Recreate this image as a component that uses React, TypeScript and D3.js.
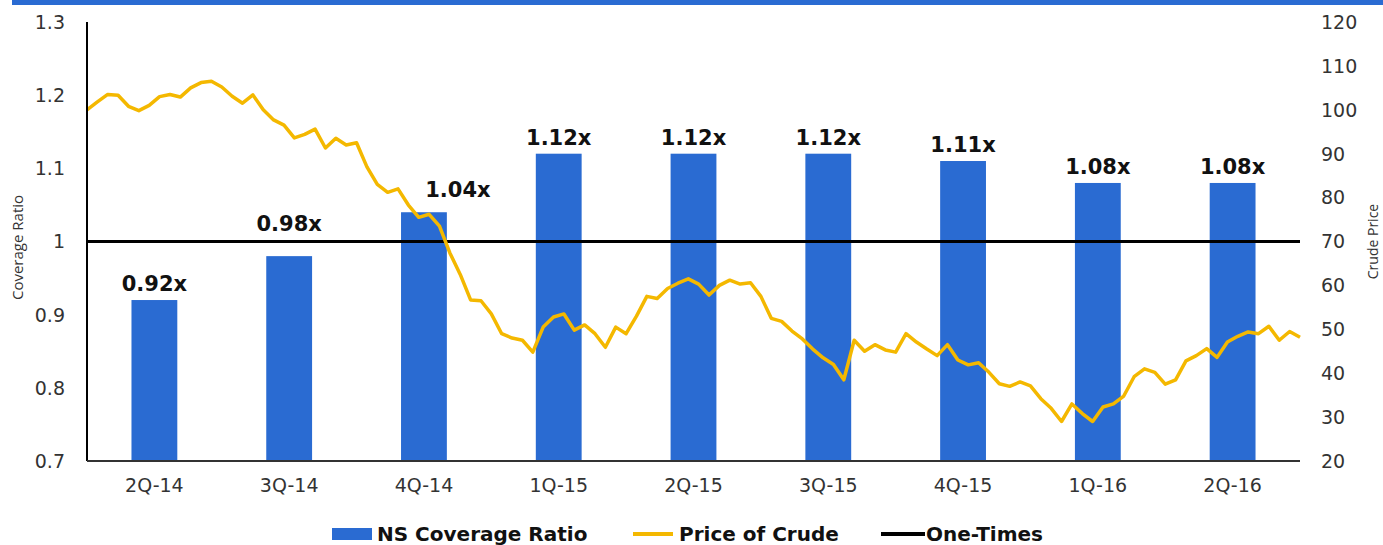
import React from 'react'
import * as d3 from 'd3'

// quarterly coverage ratio
const quarters = ['2Q-14', '3Q-14', '4Q-14', '1Q-15', '2Q-15', '3Q-15', '4Q-15', '1Q-16', '2Q-16']
const coverage = [0.92, 0.98, 1.04, 1.12, 1.12, 1.12, 1.11, 1.08, 1.08]
const oneTimes = 1.0

// weekly crude price
const crude = [
  100.0, 101.8, 103.5, 103.3, 100.8, 99.8, 101.0, 103.0, 103.5, 102.9,
  105.0, 106.2, 106.5, 105.2, 103.1, 101.5, 103.4, 100.0, 97.7, 96.5,
  93.6, 94.4, 95.6, 91.3, 93.5, 92.0, 92.5, 87.0, 83.0, 81.2,
  82.0, 78.3, 75.5, 76.2, 73.5, 67.4, 62.5, 56.7, 56.5, 53.5,
  49.0, 48.0, 47.5, 44.8, 50.5, 52.8, 53.5, 49.8, 51.0, 49.0,
  45.9, 50.5, 49.0, 53.0, 57.5, 57.0, 59.3, 60.5, 61.5, 60.3,
  57.8, 60.0, 61.2, 60.3, 60.6, 57.5, 52.5, 51.8, 49.6, 47.8,
  45.5, 43.5, 42.0, 38.5, 47.5, 45.0, 46.5, 45.3, 44.8, 49.0,
  47.1, 45.5, 44.0, 46.5, 43.0, 41.9, 42.4, 40.2, 37.6, 37.0,
  38.0, 37.1, 34.2, 32.0, 29.0, 33.0, 30.8, 29.0, 32.3, 33.0,
  34.8, 39.2, 41.0, 40.2, 37.5, 38.5, 42.8, 44.0, 45.6, 43.6,
  47.1, 48.4, 49.4, 49.0, 50.7, 47.5, 49.5, 48.2,
]

const leftTicks = [0.7, 0.8, 0.9, 1, 1.1, 1.2, 1.3]
const rightTicks = [20, 30, 40, 50, 60, 70, 80, 90, 100, 110, 120]

const BLUE = '#2a6bd2'
const GOLD = '#f4b800'

export default function App() {
  const width = 1383
  const height = 545
  const left = 87, right = 1300, top = 22, bottom = 461

  const x = d3.scaleBand().domain(quarters).range([left, right]).paddingInner(0.66).paddingOuter(0.33)
  const yL = d3.scaleLinear().domain([0.7, 1.3]).range([bottom, top])
  const yR = d3.scaleLinear().domain([20, 120]).range([bottom, top])
  const xLine = d3.scaleLinear().domain([0, crude.length - 1]).range([left, right])

  const line = d3.line<number>()
    .x((d, i) => xLine(i))
    .y(d => yR(d))

  const tickFont = 'DejaVu Sans, Verdana, sans-serif'
  const refY = yL(oneTimes)

  // label above the bar, lifted over the one-times line if it would sit on it
  const labelY = (v: number) => {
    const yy = yL(v) - 9
    if (yy > refY - 6 && yy - 16 < refY + 2) return refY - 11
    return yy
  }
  // 4Q-14 label is pushed right and up so the crude line doesn't run through it
  const labelDx = (q: string) => (q === '4Q-14' ? 34 : 0)
  const labelDy = (q: string) => (q === '4Q-14' ? -6 : 0)

  return (
    <svg width={width} height={height} style={{ position: 'absolute', left: 0, top: 0, background: '#fff' }}>
      <rect x={12} y={0} width={width - 12} height={5} fill={BLUE} />

      {/* bars */}
      {quarters.map((q, i) => (
        <g key={q}>
          <rect x={x(q)} y={yL(coverage[i])} width={x.bandwidth()} height={bottom - yL(coverage[i])} fill={BLUE} />
          <text x={x(q)! + x.bandwidth() / 2 + labelDx(q)} y={labelY(coverage[i]) + labelDy(q)} textAnchor="middle"
            fontFamily={tickFont} fontWeight="bold" fontSize={21} fill="#111">
            {coverage[i].toFixed(2)}x
          </text>
          <text x={x(q)! + x.bandwidth() / 2} y={492} textAnchor="middle"
            fontFamily={tickFont} fontSize={19} fill="#333">{q}</text>
        </g>
      ))}

      {/* one-times line */}
      <line x1={left} x2={right} y1={refY} y2={refY} stroke="#000" strokeWidth={3} />

      {/* crude */}
      <path d={line(crude) || ''} fill="none" stroke={GOLD} strokeWidth={3.5} strokeLinejoin="round" />

      {/* axes */}
      <line x1={left} x2={left} y1={top} y2={bottom} stroke="#000" strokeWidth={2} />
      <line x1={left} x2={right} y1={bottom} y2={bottom} stroke="#333" strokeWidth={2} />

      {leftTicks.map(t => (
        <text key={t} x={65} y={yL(t)} dy="0.36em" textAnchor="end" fontFamily={tickFont} fontSize={19} fill="#333">
          {t}
        </text>
      ))}
      {rightTicks.map(t => (
        <text key={t} x={1321} y={yR(t)} dy="0.36em" textAnchor="start" fontFamily={tickFont} fontSize={19} fill="#333">
          {t}
        </text>
      ))}

      <text transform={`translate(23,${(top + bottom) / 2 + 6}) rotate(-90)`} textAnchor="middle"
        fontFamily="Open Sans, sans-serif" fontSize={15} fill="#333">Coverage Ratio</text>
      <text transform={`translate(1378,${(top + bottom) / 2}) rotate(-90)`} textAnchor="middle"
        fontFamily="Open Sans, sans-serif" fontSize={14} fill="#333">Crude Price</text>

      {/* legend */}
      <g fontFamily={tickFont} fontWeight="bold" fontSize={20} fill="#111">
        <rect x={332} y={528} width={40} height={12} fill={BLUE} />
        <text x={377} y={541}>NS Coverage Ratio</text>
        <line x1={633} x2={673} y1={534} y2={534} stroke={GOLD} strokeWidth={4} />
        <text x={679} y={541}>Price of Crude</text>
        <line x1={881} x2={925} y1={534} y2={534} stroke="#000" strokeWidth={4} />
        <text x={926} y={541}>One-Times</text>
      </g>
    </svg>
  )
}
